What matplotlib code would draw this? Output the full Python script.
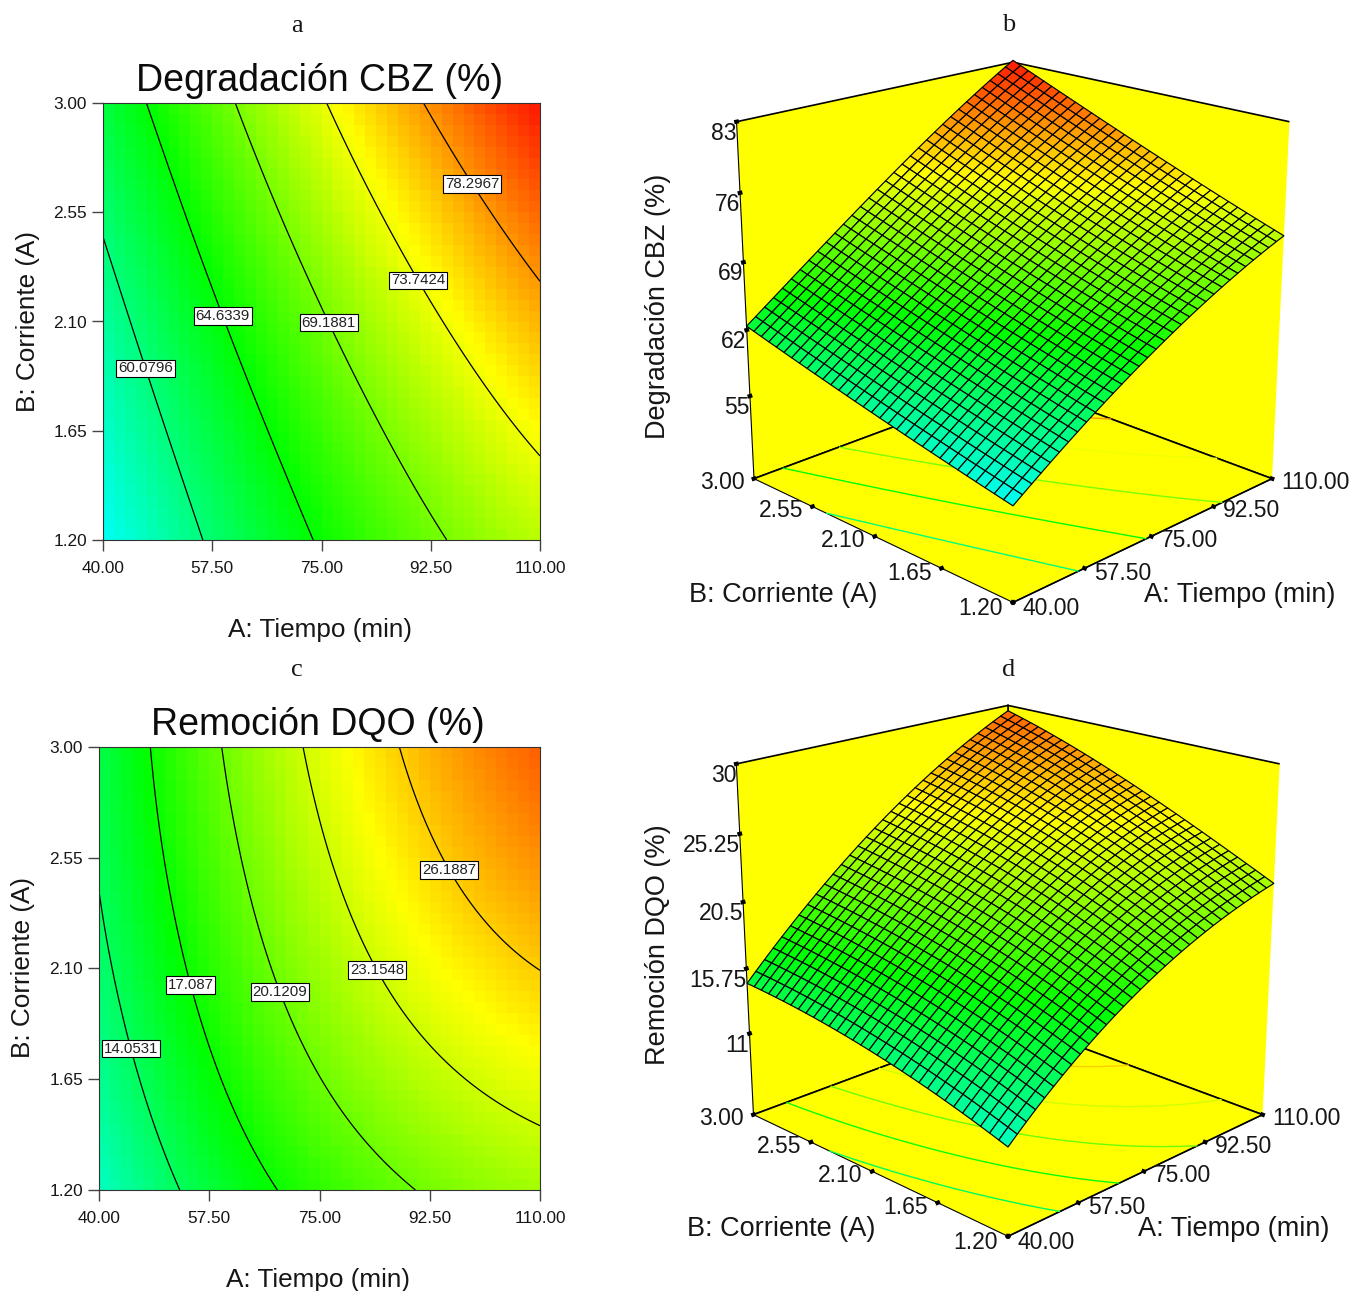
import numpy as np
import matplotlib
matplotlib.use("Agg")
import matplotlib.pyplot as plt
from matplotlib.colors import LinearSegmentedColormap, Normalize

plt.rcParams['font.family'] = ['Liberation Sans', 'DejaVu Sans']

W, H = 1360, 1291

# ---- data ----
TIEMPO = np.array([40.0, 57.5, 75.0, 92.5, 110.0])
CORRIENTE = np.array([1.20, 1.65, 2.10, 2.55, 3.00])
TIEMPO_LABELS = ['40.00', '57.50', '75.00', '92.50', '110.00']
CORRIENTE_LABELS = ['1.20', '1.65', '2.10', '2.55', '3.00']

CBZ_120 = [55.4, 60.45, 65.0, 68.65, 71.7]
CBZ_165 = [57.0, 62.2, 66.9, 70.9, 74.4]
CBZ_210 = [58.7, 64.0, 68.9, 73.2, 77.2]
CBZ_255 = [60.5, 66.0, 71.2, 75.9, 80.2]
CBZ_300 = [62.4, 68.0, 73.5, 78.6, 83.2]

DQO_120 = [10.9, 15.1, 18.1, 20.4, 21.8]
DQO_165 = [12.3, 16.7, 20.0, 22.6, 24.1]
DQO_210 = [13.55, 18.0, 21.6, 24.4, 26.2]
DQO_255 = [14.2, 18.9, 22.8, 25.9, 28.1]
DQO_300 = [14.7, 19.6, 23.75, 27.0, 29.6]

CBZ_LEVELS = [60.0796, 64.6339, 69.1881, 73.7424, 78.2967]
CBZ_LEVEL_TEXT = ['60.0796', '64.6339', '69.1881', '73.7424', '78.2967']
DQO_LEVELS = [14.0531, 17.087, 20.1209, 23.1548, 26.1887]
DQO_LEVEL_TEXT = ['14.0531', '17.087', '20.1209', '23.1548', '26.1887']

CBZ_ZTICKS = [55, 62, 69, 76, 83]
CBZ_ZTEXT = ['55', '62', '69', '76', '83']
DQO_ZTICKS = [11, 15.75, 20.5, 25.25, 30]
DQO_ZTEXT = ['11', '15.75', '20.5', '25.25', '30']

TEXT = '#161616'
cmap = LinearSegmentedColormap.from_list('de', ['#00ffff', '#00ff00', '#ffff00', '#ff0000'])


def surface_on(a, b, table):
    """Smooth response surface through the values read at the table nodes."""
    ta = (TIEMPO - 75) / 35
    tb = (CORRIENTE - 2.1) / 0.9
    AA, BB = np.meshgrid(ta, tb)
    V = np.polynomial.polynomial.polyvander2d(AA.ravel(), BB.ravel(), [3, 3])
    coef, *_ = np.linalg.lstsq(V, np.asarray(table).ravel(), rcond=None)
    c = coef.reshape(4, 4)
    return np.polynomial.polynomial.polyval2d((a - 75) / 35, (b - 2.1) / 0.9, c)


def panel_2d(fig, box, table, norm, levels, texts, label_px, title, letter_xy, title_xy, xl_xy, yl_xy):
    l, t, r, b = box
    ax = fig.add_axes([l / W, 1 - b / H, (r - l) / W, (b - t) / H])
    ae = np.linspace(40, 110, 41)
    be = np.linspace(1.2, 3.0, 41)
    ac = (ae[:-1] + ae[1:]) / 2
    bc = (be[:-1] + be[1:]) / 2
    Ac, Bc = np.meshgrid(ac, bc)
    ax.pcolormesh(ae, be, surface_on(Ac, Bc, table), cmap=cmap, norm=norm, shading='flat', rasterized=True)
    af = np.linspace(40, 110, 141)
    bf = np.linspace(1.2, 3.0, 141)
    Af, Bf = np.meshgrid(af, bf)
    cs = ax.contour(Af, Bf, surface_on(Af, Bf, table), levels=levels, colors='k', linewidths=0.9)
    ax.set_xlim(40, 110)
    ax.set_ylim(1.2, 3.0)
    manual = [(40 + (px - l) / (r - l) * 70, 3.0 - (py - t) / (b - t) * 1.8) for px, py in label_px]
    lab = ax.clabel(cs, fontsize=10.8, inline=False, manual=manual, fmt=dict(zip(levels, texts)))
    for tx in lab:
        tx.set_rotation(0)
        tx.set_color('#222222')
        tx.set_bbox(dict(fc='white', ec='k', lw=0.8, pad=1.3))
    ax.set_xticks(TIEMPO, TIEMPO_LABELS)
    ax.set_yticks(CORRIENTE, CORRIENTE_LABELS)
    ax.tick_params(length=8, width=1.0, color='#444444', labelsize=12.4, labelcolor=TEXT)
    ax.tick_params(axis='x', pad=7)
    ax.tick_params(axis='y', pad=3.6)
    for s in ax.spines.values():
        s.set_linewidth(0.8)
        s.set_color('#333333')
    fig.text(title_xy[0] / W, 1 - title_xy[1] / H, title, fontsize=27, ha='center', va='center', color='#0c0c0c')
    fig.text(xl_xy[0] / W, 1 - xl_xy[1] / H, 'A: Tiempo (min)', fontsize=18.8, ha='center', va='center', color=TEXT)
    fig.text(yl_xy[0] / W, 1 - yl_xy[1] / H, 'B: Corriente (A)', fontsize=18.8, ha='center', va='center', rotation=90, color=TEXT)
    fig.text(letter_xy[0] / W, 1 - letter_xy[1] / H, letter_xy[2], fontsize=19, ha='center', va='center',
             family=['Liberation Serif'], color=TEXT)
    return ax


def panel_3d(fig, cx, cy, width, table, norm, levels, zlim, zticks, ztext, zlabel, letter_xy, xl_xy, yl_xy):
    left = cx - 0.5135 * width
    bottom = cy + 0.5135 * width
    ax = fig.add_axes([left / W, 1 - bottom / H, width / W, width / H], projection='3d', computed_zorder=False)
    ax.patch.set_alpha(0)
    ax.set_box_aspect((1, 1, 1))
    ax.set_proj_type('persp', focal_length=0.564)
    ax.view_init(elev=19.5, azim=-135.0)
    ax.set_xlim(40, 110)
    ax.set_ylim(1.2, 3.0)
    ax.set_zlim(*zlim)
    ae = np.linspace(40, 110, 33)
    be = np.linspace(1.2, 3.0, 33)
    Ae, Be = np.meshgrid(ae, be)
    Z = surface_on(Ae, Be, table)
    Zm = (Z[:-1, :-1] + Z[1:, :-1] + Z[:-1, 1:] + Z[1:, 1:]) / 4
    af = np.linspace(40, 110, 141)
    bf = np.linspace(1.2, 3.0, 141)
    Af, Bf = np.meshgrid(af, bf)
    ax.contour(Af, Bf, surface_on(Af, Bf, table), levels=levels, zdir='z', offset=zlim[0],
               cmap=cmap, norm=norm, linewidths=1.0, zorder=1)
    ax.plot_surface(Ae, Be, Z, facecolors=cmap(norm(Zm)), edgecolor='k', linewidth=0.85,
                    rstride=1, cstride=1, shade=False, antialiased=True, zorder=3)
    ax.set_xticks(TIEMPO, TIEMPO_LABELS)
    ax.set_yticks(CORRIENTE, CORRIENTE_LABELS)
    ax.set_zticks(zticks, ztext)
    for axis in (ax.xaxis, ax.yaxis, ax.zaxis):
        axis.set_pane_color((1, 1, 0, 1))
        axis.pane.set_edgecolor('k')
        axis.pane.set_linewidth(1.2)
        axis.line.set_color('k')
        axis._axinfo['grid']['linewidth'] = 0
        axis._axinfo['tick']['inward_factor'] = 0.012
        axis._axinfo['tick']['outward_factor'] = 0.012
        axis._axinfo['tick']['linewidth'] = {True: 3, False: 1}
        axis._axinfo['tick']['color'] = 'k'
        axis.set_rotate_label(False)
    ax.grid(False)
    ax.tick_params(axis='x', labelsize=16.5, pad=0, labelcolor=TEXT)
    ax.tick_params(axis='y', labelsize=16.5, pad=0, labelcolor=TEXT)
    ax.tick_params(axis='z', labelsize=16.5, pad=-8, labelcolor=TEXT)
    ax.set_zlabel(zlabel, fontsize=19.5, labelpad=18, rotation=90, color=TEXT)

    for tick in ax.xaxis.get_major_ticks():
        tick.label1.set_ha('left')
        tick.label1.set_va('bottom')
    for tick in ax.yaxis.get_major_ticks():
        tick.label1.set_ha('right')
        tick.label1.set_va('bottom')
    for tick in ax.zaxis.get_major_ticks():
        tick.label1.set_ha('right')
        tick.label1.set_va('top')
    ax.text2D(xl_xy[0] / W, 1 - xl_xy[1] / H, 'A: Tiempo (min)', fontsize=19.5, ha='center', va='center',
              color=TEXT, transform=fig.transFigure)
    ax.text2D(yl_xy[0] / W, 1 - yl_xy[1] / H, 'B: Corriente (A)', fontsize=19.5, ha='center', va='center',
              color=TEXT, transform=fig.transFigure)
    fig.text(letter_xy[0] / W, 1 - letter_xy[1] / H, letter_xy[2], fontsize=19, ha='center', va='center',
             family=['Liberation Serif'], color=TEXT)
    return ax


fig = plt.figure(figsize=(W / 100, H / 100), dpi=100, facecolor='white')

CBZ = [CBZ_120, CBZ_165, CBZ_210, CBZ_255, CBZ_300]
DQO = [DQO_120, DQO_165, DQO_210, DQO_255, DQO_300]
norm_cbz = Normalize(55, 84)
norm_dqo = Normalize(9, 32.5)

panel_2d(fig, (103, 103, 540, 540), CBZ, norm_cbz, CBZ_LEVELS, CBZ_LEVEL_TEXT,
         [(147, 368), (222, 316), (328, 323), (419, 280), (477, 181)],
         'Degradación CBZ (%)', (297, 26, 'a'), (320, 81), (320, 630), (28, 322))
panel_2d(fig, (99, 747, 540, 1190), DQO, norm_dqo, DQO_LEVELS, DQO_LEVEL_TEXT,
         [(129, 1049), (187, 986), (277, 993), (375, 971), (451, 869)],
         'Remoción DQO (%)', (297, 670, 'c'), (318, 725), (318, 1280), (23, 968))

panel_3d(fig, 1013, 306, 636, CBZ, norm_cbz, CBZ_LEVELS, (46, 83), CBZ_ZTICKS, CBZ_ZTEXT,
         'Degradación CBZ (%)', (1009, 25, 'b'), (1240, 595), (783, 595))
panel_3d(fig, 1008, 945, 625, DQO, norm_dqo, DQO_LEVELS, (4.9, 30), DQO_ZTICKS, DQO_ZTEXT,
         'Remoción DQO (%)', (1009, 670, 'd'), (1234, 1229), (781, 1229))

fig.savefig('out.png', dpi=100)
